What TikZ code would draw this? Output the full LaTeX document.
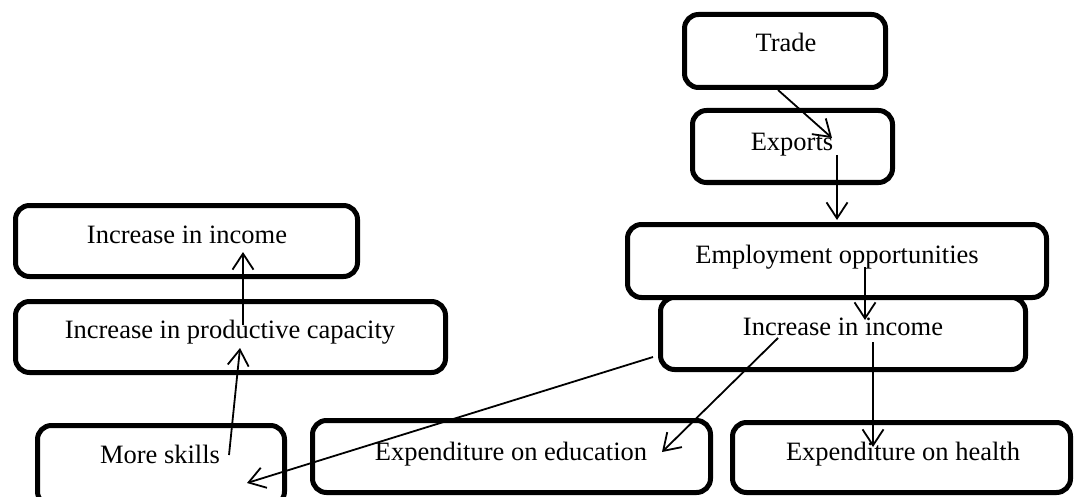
\documentclass[tikz,border=0pt]{standalone}
\usepackage{fontspec}
\setmainfont{Liberation Serif}
\usetikzlibrary{arrows.meta,calc}
\begin{document}
\begin{tikzpicture}[x=1pt,y=-1pt,
  box/.style={draw=black,fill=white,line width=5pt,rounded corners=14pt,inner sep=0pt},
  txt/.style={anchor=base,inner sep=0pt,font=\fontsize{26.5}{30}\selectfont},
  arr/.style={line width=1.8pt,-{Straight Barb[length=16pt,width=21pt,line width=1.8pt]}}]
\useasboundingbox (0,0) rectangle (1075,497);
% boxes
\node[box,minimum width=201pt,minimum height=73pt] (trade) at (785,51) {};
\node[box,minimum width=200pt,minimum height=72pt] (exports) at (792.5,146.5) {};
\node[box,minimum width=419pt,minimum height=73pt] (employ) at (837,261) {};
\node[box,minimum width=365pt,minimum height=72pt] (incomeR) at (843,333.5) {};
\node[box,minimum width=338pt,minimum height=70pt] (health) at (901.5,457.5) {};
\node[box,minimum width=398pt,minimum height=72pt] (educ) at (511.5,456.5) {};
\node[box,minimum width=247pt,minimum height=80pt] (skills) at (161,465.5) {};
\node[box,minimum width=430pt,minimum height=71pt] (prod) at (230.5,337) {};
\node[box,minimum width=342pt,minimum height=71pt] (incomeL) at (186.5,241) {};
% texts
\node[txt] (tradeT) at (786,52) {Trade};
\node[txt] (exportsT) at (792,151) {Exports};
\node[txt] (employT) at (837,263) {Employment opportunities};
\node[txt] (incomeRT) at (843,335) {Increase in income};
\node[txt] (healthT) at (903,460) {Expenditure on health};
\node[txt] (educT) at (511,460) {Expenditure on education};
\node[txt] (skillsT) at (160,463) {More skills};
\node[txt] (prodT) at (230,338) {Increase in productive capacity};
\node[txt] (incomeLT) at (187,243) {Increase in income};
% connectors
\draw[arr] ($(trade.center)+(-7,39)$) -- ($(exports.center)+(39.5,-8.5)$);
\draw[arr] ($(exports.center)+(44.5,8.5)$) -- ($(employ.center)+(0,-41)$);
\draw[arr] ($(employ.center)+(28,6)$) -- ($(incomeR.center)+(22,-13.5)$);
\draw[arr] ($(incomeR.center)+(30,8.5)$) -- ($(health.center)+(-28.5,-10.5)$);
\draw[arr] ($(incomeR.center)+(-65,4.5)$) -- ($(educ.center)+(150.5,-4.5)$);
\draw[arr] ($(incomeR.center)+(-190,23.5)$) -- ($(skills.center)+(86,17.5)$);
\draw[arr] ($(skills.center)+(68,-10.5)$) -- ($(prod.center)+(9.5,11)$);
\draw[arr] ($(prod.center)+(12.5,-12)$) -- ($(incomeL.center)+(56.5,11)$);
\end{tikzpicture}
\end{document}
